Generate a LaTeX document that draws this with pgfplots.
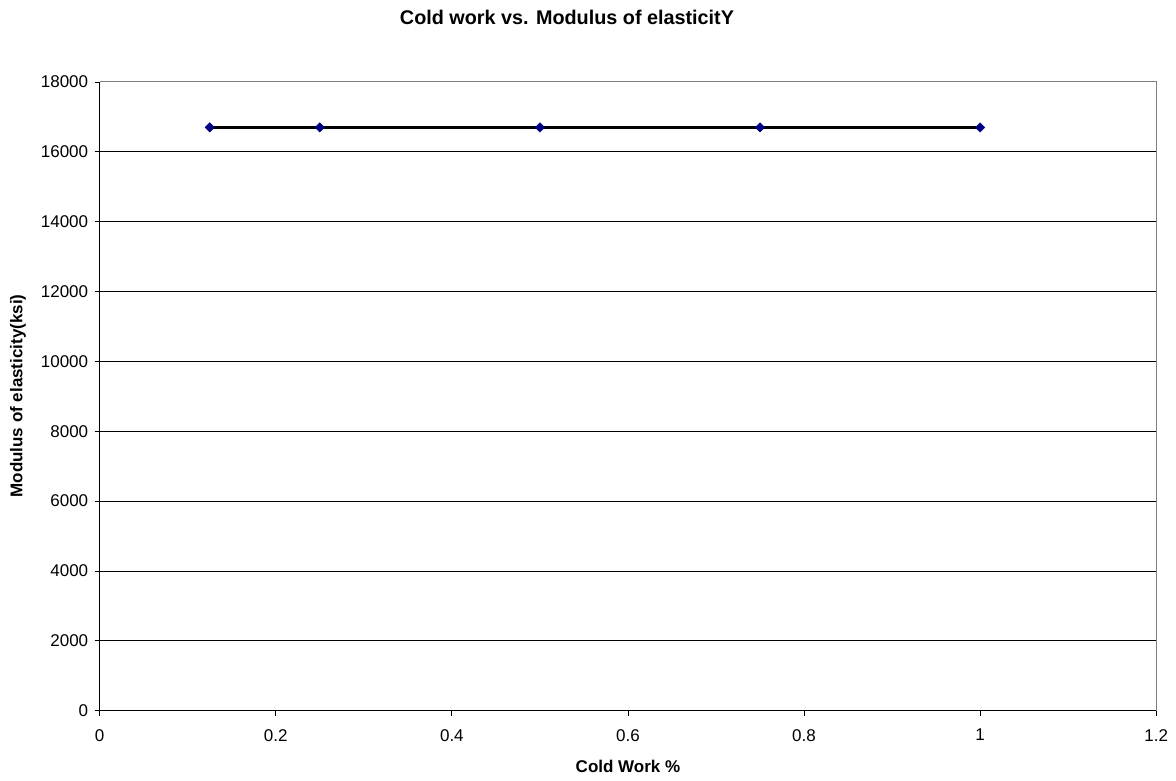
\documentclass[border=0pt]{standalone}
\usepackage{pgfplots}
\pgfplotsset{compat=1.18}
\usepackage{fontspec}
\setmainfont{Liberation Sans}
\definecolor{navy}{RGB}{0,0,128}
\begin{document}
\begin{tikzpicture}[x=1pt,y=1pt]
\begin{axis}[
  at={(99.7pt,70.3pt)}, anchor=south west,
  scale only axis, width=1056.5pt, height=628.7pt,
  xmin=0, xmax=1.2, ymin=0, ymax=18000,
  xtick={0,0.2,...,1.2}, ytick={0,2000,...,16000},
  extra y ticks={18000}, extra y tick style={grid=none},
  xticklabels={0,0.2,0.4,0.6,0.8,1,1.2},
  yticklabel style={/pgf/number format/fixed,/pgf/number format/1000 sep={}, xshift=-3pt},
  xticklabel style={yshift=-10pt},
  scaled y ticks=false,
  /pgf/number format/assume math mode=true,
  ticklabel style={font=\fontsize{17}{20}\selectfont},
  tick align=outside, tick pos=left, major tick length=5pt,
  ymajorgrids, major grid style={black, line width=0.8pt},
  axis line style={line width=0.8pt, black},
  axis x line*=bottom, axis y line*=left,
  xtick style={black, line width=0.8pt}, ytick style={black, line width=0.8pt},
  clip=false,
]
\addplot[black, line width=3pt, mark=square*, mark size=3.3pt,
  mark options={fill=navy, draw=navy, line width=0.5pt, rotate=45}] coordinates {
  (0.125,16700) (0.25,16700) (0.5,16700) (0.75,16700) (1,16700)
};
\end{axis}
\draw[gray, line width=1pt] (99.7,699) -- (1156.2,699) -- (1156.2,70.3);
\node[font=\fontsize{19.8}{24}\selectfont\bfseries] at (567,764) {Cold work vs. Modulus of elasticitY};
\node[font=\fontsize{17}{20}\selectfont\bfseries] at (628,15) {Cold Work \%};
\node[font=\fontsize{17}{20}\selectfont\bfseries, rotate=90] at (18,385) {Modulus of elasticity(ksi)};
\pgfresetboundingbox
\path[use as bounding box] (0,0) rectangle (1176,781);
\end{tikzpicture}
\end{document}
